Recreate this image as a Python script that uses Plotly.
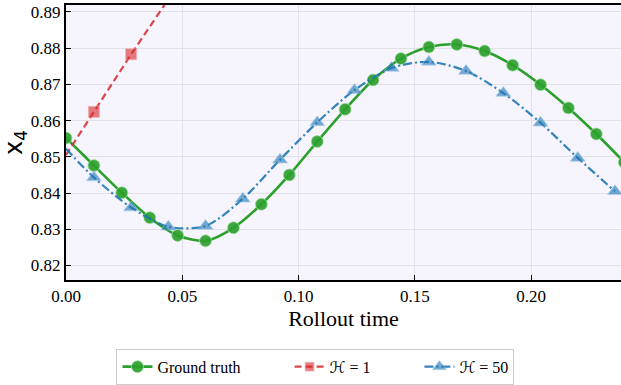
import plotly.graph_objects as go

# Ground truth (markers every 0.012)
t_gt = [0.0, 0.012, 0.024, 0.036, 0.048, 0.060, 0.072, 0.084, 0.096, 0.108,
        0.120, 0.132, 0.144, 0.156, 0.168, 0.180, 0.192, 0.204, 0.216, 0.228, 0.240]
x_gt = [0.8552, 0.8476, 0.8401, 0.8332, 0.8283, 0.8268, 0.8304, 0.8369, 0.8450, 0.8542,
        0.8631, 0.8712, 0.8771, 0.8803, 0.8810, 0.8792, 0.8753, 0.8699, 0.8635, 0.8563, 0.8485]

# H = 1 rollout
t_h1 = [0.0, 0.012, 0.028, 0.044, 0.060]
x_h1 = [0.8505, 0.8624, 0.8783, 0.8935, 0.9090]

# H = 50 rollout
t_h50 = [0.0, 0.012, 0.028, 0.044, 0.060, 0.076, 0.092, 0.108, 0.124, 0.140,
         0.156, 0.172, 0.188, 0.204, 0.220, 0.236]
x_h50 = [0.8522, 0.8443, 0.8360, 0.8307, 0.8309, 0.8384, 0.8492, 0.8595, 0.8684, 0.8745,
         0.8762, 0.8737, 0.8676, 0.8594, 0.8497, 0.8405]

x_ticks = [0.00, 0.05, 0.10, 0.15, 0.20]
y_ticks = [0.82, 0.83, 0.84, 0.85, 0.86, 0.87, 0.88, 0.89]

GREEN = "#2ca02c"
SERIF = "Times"
MATH = "DejaVu Sans"


def tick_label(v):
    return f'<span style="font-family:Times;font-size:17px">{v:.2f}</span>'


fig = go.Figure()

fig.add_trace(go.Scatter(
    x=t_gt, y=x_gt, mode="lines+markers",
    name="Ground truth" + "\u00a0" * 11,
    line=dict(color=GREEN, width=2.6, shape="spline", smoothing=0.8),
    marker=dict(symbol="circle", size=12, color="rgba(44,160,44,0.92)",
                line=dict(color="rgba(170,225,170,0.9)", width=0.8)),
))

fig.add_trace(go.Scatter(
    x=t_h1, y=x_h1, mode="lines+markers",
    name='<span style="font-family:DejaVu Sans;font-style:italic">ℋ</span> = 1' + "\u00a0" * 11,
    line=dict(color="rgba(214,39,40,0.85)", width=2.2, dash="7px,4px"),
    marker=dict(symbol="square", size=[0, 11, 11, 11, 11], color="rgba(214,39,40,0.85)",
                line=dict(color="rgba(240,150,150,0.9)", width=0.8)),
))

fig.add_trace(go.Scatter(
    x=t_h50, y=x_h50, mode="lines+markers",
    name='<span style="font-family:DejaVu Sans;font-style:italic">ℋ</span> = 50',
    line=dict(color="rgba(31,119,180,0.9)", width=2.2, dash="9px,3px,2px,3px",
              shape="spline", smoothing=0.8),
    marker=dict(symbol="triangle-up", size=[0] + [13] * 15, color="rgba(31,119,180,0.88)",
                line=dict(color="rgba(150,195,230,0.9)", width=0.8)),
))

fig.update_layout(
    width=621, height=385,
    margin=dict(l=66, r=0, t=5, b=97),
    paper_bgcolor="white",
    plot_bgcolor="#F6F4FD",
    font=dict(family=SERIF, size=17, color="black"),
    legend=dict(
        orientation="h", x=0.4495, xanchor="center", y=-0.25, yanchor="top",
        bgcolor="white", bordercolor="#cccccc", borderwidth=1,
        font=dict(family=SERIF, size=16),
    ),
    xaxis=dict(
        range=[0, 0.2386], tickvals=x_ticks, ticktext=[tick_label(v) for v in x_ticks],
        showgrid=True, gridcolor="#e2e0e8", gridwidth=1,
        showline=True, linecolor="black", linewidth=2, mirror=True,
        ticks="inside", ticklen=5, tickcolor="black",
        zeroline=False, automargin=False,
        title=dict(text="Rollout time", font=dict(family=SERIF, size=22), standoff=4),
        tickfont=dict(family=SERIF, size=17),
    ),
    yaxis=dict(
        range=[0.816, 0.8919], tickvals=y_ticks, ticktext=[tick_label(v) for v in y_ticks],
        showgrid=True, gridcolor="#e2e0e8", gridwidth=1,
        showline=True, linecolor="black", linewidth=2,
        ticks="inside", ticklen=5, tickcolor="black",
        zeroline=False, automargin=False,
        title=dict(text="x<sub>4</sub>", font=dict(family=MATH, size=24), standoff=4),
        tickfont=dict(family=SERIF, size=17),
    ),
)

fig.write_html("out.html", post_script="document.body.style.margin='0';",
               config={"displayModeBar": False})
